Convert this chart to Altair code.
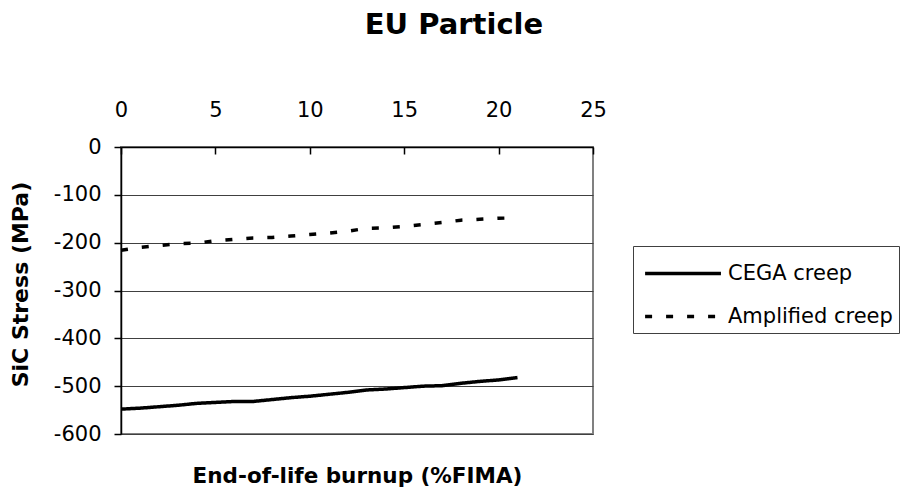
import altair as alt
import pandas as pd

burnup = list(range(22))
cega_creep = [-548, -546, -543, -540, -536, -534, -532, -532, -528, -524, -521,
              -517, -513, -508, -506, -503, -500, -499, -494, -490, -487, -482]
amplified_creep = [-216, -210, -206, -202, -201, -196, -193, -190, -189, -186, -183,
                   -180, -176, -170, -169, -166, -162, -158, -153, -151, -149, -148]
series_names = ["CEGA creep", "Amplified creep"]
x_ticks = [0, 5, 10, 15, 20, 25]
y_ticks = [-600, -500, -400, -300, -200, -100, 0]

rows = []
for name, vals in zip(series_names, [cega_creep, amplified_creep]):
    for b, v in zip(burnup, vals):
        rows.append({"burnup": b, "stress": v, "series": name})
df = pd.DataFrame(rows)

FONT = "DejaVu Sans"
xscale = alt.Scale(domain=[0, 25], nice=False, zero=False)
yscale = alt.Scale(domain=[-600, 0], nice=False)

y_axis = alt.Axis(values=y_ticks, title="SiC Stress (MPa)", grid=True,
                  gridColor="#404040", gridWidth=1, domainColor="black",
                  domainWidth=1.5, tickColor="black", tickSize=7, tickWidth=1.5,
                  labelPadding=13, labelFont=FONT, labelFontSize=21,
                  labelColor="black", labelFlush=False, labelOverlap=False,
                  labelExpr="toString(datum.value)",
                  titleFont=FONT, titleFontSize=22, titleFontWeight="bold",
                  titleColor="black", titleX=-101, titleY=137, titleAngle=270,
                  titleAlign="center", titleBaseline="middle")

lines = alt.Chart(df).mark_line(color="black", strokeWidth=3.5).encode(
    x=alt.X("burnup:Q", scale=xscale,
            axis=alt.Axis(orient="top", values=x_ticks, title=None, ticks=False, tickSize=0,
                          grid=False, domain=True, domainColor="black", domainWidth=1.5,
                          labelFont=FONT, labelFontSize=21, labelColor="black",
                          labelPadding=27, labelFlush=False, labelOverlap=False)),
    y=alt.Y("stress:Q", scale=yscale, axis=y_axis),
    strokeDash=alt.StrokeDash(
        "series:N",
        scale=alt.Scale(domain=series_names, range=[[1, 0], [7, 14]]),
        legend=alt.Legend(title=None, orient="none", legendX=512, legendY=99,
                          direction="vertical", symbolType="M-0.79,0L3.1,0",
                          symbolSize=1521, symbolStrokeWidth=3.5,
                          symbolStrokeColor="black", labelFont=FONT, labelFontSize=21,
                          labelColor="black", labelOffset=46, labelLimit=400,
                          padding=6, rowPadding=11, strokeColor="#404040",
                          fillColor="white")),
)

bottom_axis = alt.Chart(df).mark_line(opacity=0).encode(
    x=alt.X("burnup:Q", scale=xscale,
            axis=alt.Axis(orient="bottom", offset=-287, values=x_ticks, labels=False,
                          domain=False, ticks=True, tickSize=7, tickColor="black",
                          tickWidth=1.5, grid=False, title="End-of-life burnup (%FIMA)",
                          titleFont=FONT, titleFontSize=21.5, titleFontWeight="bold",
                          titleColor="black", titleY=329, titleBaseline="middle")),
    y=alt.Y("stress:Q", scale=yscale, axis=y_axis),
    detail="series:N",
)

chart = alt.layer(lines, bottom_axis).resolve_axis(x="independent").properties(
    width=472,
    height=287,
    autosize=alt.AutoSizeParams(type="none"),
    padding={"left": 121, "top": 147, "right": 315, "bottom": 61},
    background="white",
    title=alt.TitleParams("EU Particle", font=FONT, fontSize=29, fontWeight="bold",
                          color="black", anchor="middle", frame="group", dx=97,
                          dy=-59, offset=0),
).configure_view(stroke="#808080", strokeWidth=2)

chart.save("out.html", embed_options={"renderer": "svg", "actions": False})
